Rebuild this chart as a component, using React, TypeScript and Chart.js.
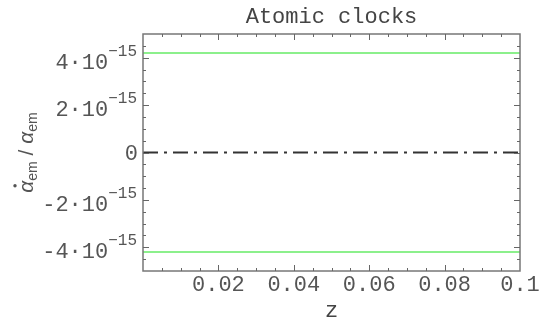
import React, { useEffect, useRef } from "react";
import { Chart, registerables } from "chart.js";

Chart.register(...registerables);

const zValues = [0, 0.1];
const upperBound = [4.2e-15, 4.2e-15];
const lowerBound = [-4.2e-15, -4.2e-15];
const centralValue = [0, 0];

const xMajorTicks = [0.02, 0.04, 0.06, 0.08, 0.1];
const xTickLabels = ["0.02", "0.04", "0.06", "0.08", "0.1"];
const yMajorMantissa = [-4, -2, 0, 2, 4];
const yTickLabels = ["-4", "-2", "0", "2", "4"];
const yExponent = "\u221215";
const titleText = "Atomic clocks";
const xAxisLabel = "z";

const MONO = "'Liberation Mono', 'DejaVu Sans Mono', monospace";
const TEXT = "#555555";
const FRAME = "#777777";

const decor = {
  id: "decor",
  afterDatasetsDraw(chart: any) {
    const ctx = chart.ctx as CanvasRenderingContext2D;
    const { left, right, top, bottom } = chart.chartArea;
    const xs = chart.scales.x;
    const ys = chart.scales.y;
    ctx.save();
    // frame
    ctx.strokeStyle = FRAME;
    ctx.lineWidth = 1.5;
    ctx.strokeRect(left, top, right - left, bottom - top);
    // ticks
    ctx.lineWidth = 1;
    ctx.strokeStyle = "#666";
    ctx.beginPath();
    for (let i = 1; i < 20; i++) {
      const v = i * 0.005;
      const px = Math.round(xs.getPixelForValue(v)) + 0.5;
      const major = i % 4 === 0;
      const len = major ? 6 : 3;
      ctx.moveTo(px, bottom);
      ctx.lineTo(px, bottom - len);
      ctx.moveTo(px, top);
      ctx.lineTo(px, top + len);
    }
    for (let i = -9; i <= 9; i++) {
      const v = i * 0.5e-15;
      const py = Math.round(ys.getPixelForValue(v)) + 0.5;
      const major = i % 4 === 0;
      const len = major ? 6 : 3;
      ctx.moveTo(left, py);
      ctx.lineTo(left + len, py);
      ctx.moveTo(right, py);
      ctx.lineTo(right - len, py);
    }
    ctx.stroke();

    // x tick labels
    ctx.fillStyle = TEXT;
    ctx.font = `22px ${MONO}`;
    ctx.textAlign = "center";
    ctx.textBaseline = "alphabetic";
    xMajorTicks.forEach((v, i) => {
      ctx.fillText(xTickLabels[i], xs.getPixelForValue(v), 291);
    });
    // y tick labels
    yMajorMantissa.forEach((m, i) => {
      const py = ys.getPixelForValue(m * 1e-15);
      const rightX = left - 6;
      if (m === 0) {
        ctx.font = `22px ${MONO}`;
        ctx.textAlign = "right";
        ctx.fillText("0", rightX + 1, py + 7);
        return;
      }
      ctx.font = `16px ${MONO}`;
      ctx.textAlign = "right";
      ctx.fillText(yExponent, rightX, py - 2);
      const expW = ctx.measureText(yExponent).width;
      ctx.font = `22px ${MONO}`;
      const main = yTickLabels[i] + "\u00B710";
      ctx.fillText(main, rightX - expW, py + 11);
    });

    // title
    ctx.font = `22px ${MONO}`;
    ctx.textAlign = "center";
    ctx.fillStyle = "#444";
    ctx.fillText(titleText, (left + right) / 2, 23);
    // x label
    ctx.fillText(xAxisLabel, (left + right) / 2, 317);

    // y label
    ctx.translate(26, (top + bottom) / 2);
    ctx.rotate(-Math.PI / 2);
    ctx.fillStyle = "#555";
    const bigF = "italic 21px 'Liberation Sans', sans-serif";
    const subF = "14px 'Liberation Sans', sans-serif";
    const slashF = "21px 'Liberation Sans', sans-serif";
    const parts: [string, string, number][] = [
      ["\u03B1", bigF, 0],
      ["em", subF, 4],
      [" / ", slashF, 0],
      ["\u03B1", bigF, 0],
      ["em", subF, 4],
    ];
    let total = 0;
    parts.forEach(([t, f]) => {
      ctx.font = f;
      total += ctx.measureText(t).width;
    });
    let cx = -total / 2;
    ctx.textAlign = "left";
    parts.forEach(([t, f, dy], idx) => {
      ctx.font = f;
      const w = ctx.measureText(t).width;
      ctx.fillText(t, cx, 7 + dy);
      if (idx === 0) {
        ctx.beginPath();
        ctx.arc(cx + w / 2 + 1, -11, 1.7, 0, Math.PI * 2);
        ctx.fill();
      }
      cx += w;
    });
    ctx.restore();
  },
};

export default function App() {
  const ref = useRef<HTMLCanvasElement>(null);
  useEffect(() => {
    const mk = (arr: number[]) => zValues.map((x, i) => ({ x, y: arr[i] }));
    const chart = new Chart(ref.current!, {
      type: "line",
      data: {
        datasets: [
          {
            data: mk(upperBound),
            borderColor: "#8cf08c",
            borderWidth: 2,
            pointRadius: 0,
          },
          {
            data: mk(lowerBound),
            borderColor: "#8cf08c",
            borderWidth: 2,
            pointRadius: 0,
          },
          {
            data: mk(centralValue),
            borderColor: "#333333",
            borderWidth: 2,
            borderDash: [15, 6, 3, 6],
            pointRadius: 0,
          },
        ],
      },
      options: {
        responsive: false,
        animation: false,
        layout: { padding: { left: 143, right: 33, top: 34, bottom: 49 } },
        plugins: { legend: { display: false }, tooltip: { enabled: false }, title: { display: false } },
        scales: {
          x: { type: "linear", min: 0, max: 0.1, display: false },
          y: { type: "linear", min: -5e-15, max: 5e-15, display: false },
        },
      },
      plugins: [decor],
    });
    return () => chart.destroy();
  }, []);
  return (
    <div style={{ position: "absolute", left: 0, top: 0, width: 553, height: 320, background: "#fff" }}>
      <canvas ref={ref} width={553} height={320} />
    </div>
  );
}
